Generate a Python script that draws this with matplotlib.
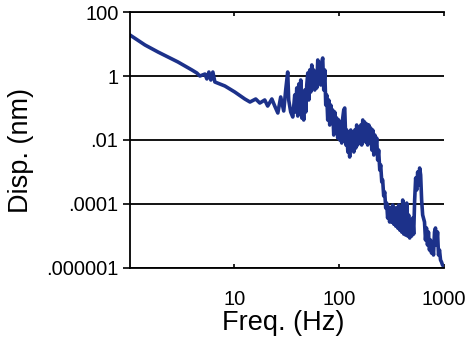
import matplotlib
matplotlib.use("Agg")
import matplotlib.pyplot as plt

plt.rcParams['font.family'] = ['Liberation Sans', 'DejaVu Sans']

# frequency (Hz) and displacement (nm)
freq = [1.01, 1.405, 1.87, 2.33, 2.90, 3.94, 4.39, 4.69, 5.24, 5.47,
        5.72, 5.97, 6.24, 6.52, 8.13, 10.1, 12.6, 14.1, 16.0, 17.5,
        19.5, 20.8, 22.8, 24.3, 26.0, 27.7, 29.6, 30.9, 32.3, 33.0,
        34.5, 36.1,
        37.7, 38.5, 39.4, 40.3, 41.2, 42.1, 43.0, 44.0, 44.9, 45.9,
        47.0, 48.0, 49.1, 50.2, 51.3, 52.4, 53.6, 54.8, 56.0, 57.2,
        58.5, 59.8, 61.1, 62.5, 63.9, 65.3, 66.7, 68.2, 69.7, 71.3,
        72.9, 74.5, 76.1, 77.8, 79.5, 81.3, 83.1, 84.9, 86.8, 88.8,
        90.7, 92.8, 94.8, 96.9, 99.1, 101.3, 103.5, 105.8, 108.2, 110.6,
        113, 116, 118, 121, 123, 126, 129, 132, 135, 138,
        141, 144, 147, 150, 154, 157, 161, 164, 168, 172,
        175, 179, 183, 187, 192, 196, 200, 205, 209, 214,
        219, 223, 228, 233, 238, 244,
        249, 255, 260, 266, 272, 278, 284, 290, 297, 303,
        310, 317, 324, 331, 339, 346, 354, 362, 370, 378,
        386, 395, 404, 413, 422, 431, 441, 450, 460, 471,
        481, 492, 503, 514, 525, 537, 549, 561, 573, 586,
        599, 612, 626,
        652, 666, 681, 696, 711, 727, 743, 760, 777, 794,
        812, 830, 849, 868, 887, 906, 927, 947, 968, 989]
disp = [19.1, 9.31, 5.62, 3.93, 2.74, 1.54, 1.24, 1.0, 1.15, 0.81,
        1.33, 0.75, 1.33, 0.65, 0.487, 0.316, 0.191, 0.154, 0.191, 0.143,
        0.178, 0.115, 0.191, 0.115, 0.0698, 0.221, 0.0806, 0.365, 1.33, 0.178,
        0.075, 0.0523,
        0.255, 0.075, 0.422, 0.0562, 0.562, 0.124, 0.75, 0.0487, 0.178, 0.0422,
        0.365, 0.075, 0.524, 1.24, 0.178, 1.54, 0.316, 2.21, 0.524, 1.54,
        0.365, 1.07, 0.422, 3.16, 0.65, 2.21, 0.524, 2.74, 3.65, 0.365,
        1.54, 0.124, 0.255, 0.0422, 0.178, 0.0294, 0.124, 0.034, 0.0866, 0.0143,
        0.075, 0.0205, 0.0487, 0.0115, 0.0422, 0.01, 0.0294, 0.00806, 0.0487, 0.0866,
        0.1, 0.00698, 0.0205, 0.00422, 0.0166, 0.00294, 0.0205, 0.00487, 0.0143, 0.00422,
        0.0205, 0.00562, 0.0294, 0.00698, 0.0237, 0.00866, 0.0294, 0.00698, 0.0422, 0.01,
        0.0365, 0.00866, 0.0316, 0.00698, 0.0294, 0.01, 0.0237, 0.00487, 0.0205, 0.0034,
        0.0143, 0.00487, 0.0115, 0.00237, 0.00487, 0.00115,
        0.00166, 4.87e-4, 5.62e-4, 1.78e-4, 2.37e-4, 7.5e-5, 1.07e-4, 3.65e-5, 8.06e-5, 2.74e-5,
        7.5e-5, 2.74e-5, 9.31e-5, 2.37e-5, 7.5e-5, 2.05e-5, 7.5e-5, 1.78e-5, 9.31e-5, 1.54e-5,
        6.49e-5, 1.33e-5, 1.33e-4, 1.15e-5, 5.62e-5, 1.07e-5, 1.07e-4, 1.0e-5, 4.53e-5, 8.66e-6,
        2.74e-5, 1.0e-5, 3.65e-5, 1.15e-5, 1.33e-4, 6.49e-4, 2.74e-4, 1.0e-3, 3.93e-4, 1.33e-3,
        8.06e-4, 1.33e-4, 4.53e-5,
        2.74e-5, 7.5e-6, 1.78e-5, 5.24e-6, 1.33e-5, 3.65e-6, 7.5e-6, 2.94e-6, 5.24e-6, 2.55e-6,
        1.33e-5, 1.78e-5, 5.24e-6, 1.33e-5, 2.55e-6, 3.65e-6, 1.78e-6, 1.54e-6, 1.24e-6, 1.15e-6]

ytick_vals = [1e2, 1, 1e-2, 1e-4, 1e-6]
ytick_labels = ['100', '1', '.01', '.0001', '.000001']
xtick_vals = [10, 100, 1000]
xtick_labels = ['10', '100', '1000']

fig = plt.figure(figsize=(4.65, 3.41), dpi=100)
ax = fig.add_axes([0.2785, 0.2141, 0.6763, 0.7507])

ax.plot(freq, disp, color='#1c318a', lw=2.6, solid_joinstyle='round')

ax.set_xscale('log')
ax.set_yscale('log')
ax.set_xlim(1, 1000)
ax.set_ylim(1e-6, 1e2)

ax.set_yticks(ytick_vals, ytick_labels)
ax.set_xticks(xtick_vals, xtick_labels)
ax.minorticks_off()
ax.yaxis.grid(True, color='black', lw=1.3)

ax.tick_params(axis='y', direction='out', length=5, width=1.2, pad=3, labelsize=14.5)
ax.tick_params(axis='x', direction='in', length=3, width=1.2, pad=16,
               labelsize=14.5, top=True)

ax.spines['right'].set_visible(False)
for s in ['left', 'top', 'bottom']:
    ax.spines[s].set_linewidth(1.3)

ax.set_xlabel('Freq. (Hz)', fontsize=19.5)
ax.set_ylabel('Disp. (nm)', fontsize=19.5)
ax.xaxis.set_label_coords(0.488, -0.165)
ax.yaxis.set_label_coords(-0.305, 0.46)

fig.savefig('out.png', dpi=100)
